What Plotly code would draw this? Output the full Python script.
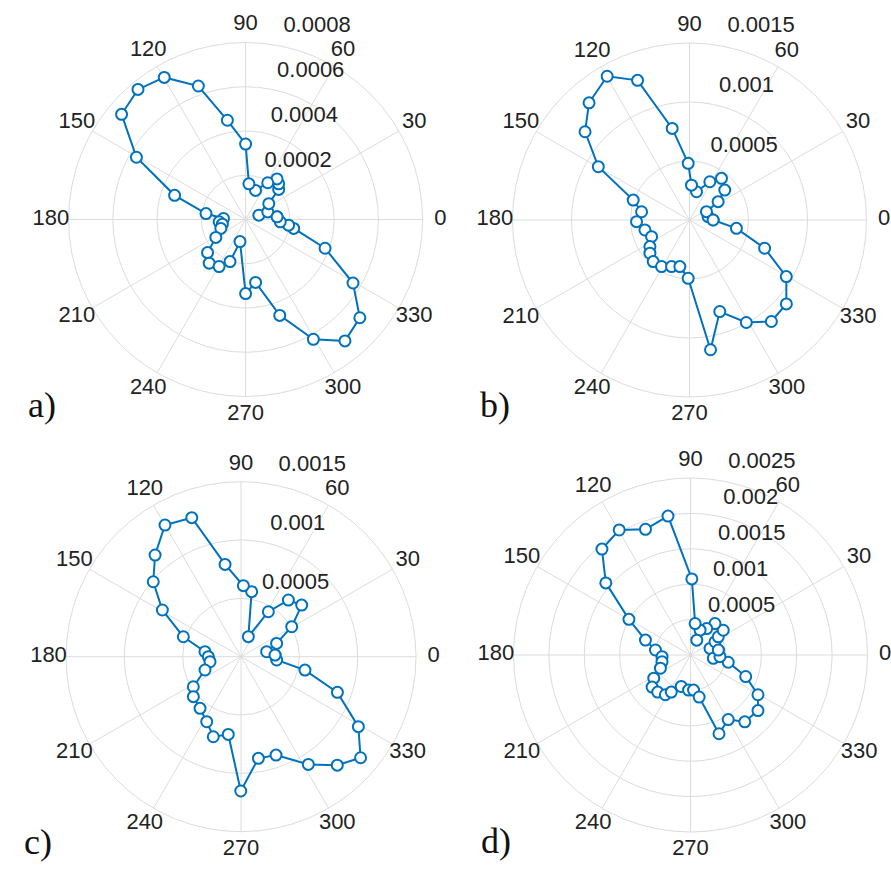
import plotly.graph_objects as go

# ---- measured data (angle in degrees, magnitude) ----
theta_a = [4.8, 18, 18.9, 34.4, 42.3, 47.2, 52.3, 58.9, 71.2, 84.7, 90, 100.4, 109.5, 119.8,
           129.6, 139.7, 150.3, 161.2, 171.5, 177.4, 185, 191.3, 199.8, 211, 221, 230.2, 240.6,
           249.7, 255.8, 270, 279, 289.6, 299.5, 309.3, 319.3, 329.4, 340.1, 349.5, 352.5, 356.2]
r_a = [1.43e-4, 0.63e-4, 1.06e-4, 1.27e-4, 2.02e-4, 2.2e-4, 2.32e-4, 1.94e-4, 1.39e-4, 1.62e-4,
       3.41e-4, 4.56e-4, 6.4e-4, 7.4e-4, 7.63e-4, 7.35e-4, 5.68e-4, 3.39e-4, 1.81e-4, 1.0e-4,
       1.2e-4, 1.07e-4, 1.19e-4, 1.57e-4, 2.28e-4, 2.57e-4, 2.44e-4, 2.03e-4, 1.03e-4, 3.35e-4,
       2.88e-4, 4.6e-4, 6.22e-4, 7.09e-4, 6.81e-4, 5.64e-4, 3.82e-4, 2.21e-4, 1.96e-4, 1.57e-4]

theta_b = [0, 10.1, 26.1, 32.6, 40.3, 52.5, 62, 76.1, 86.7, 91.3, 100.7, 110.4, 119.8, 130.6,
           139.8, 149.7, 160.5, 170.2, 181.8, 192.6, 203.7, 213.9, 220, 228.9, 239, 248.9, 258.3,
           268.7, 279.2, 288.3, 299, 308.9, 319.1, 329.7, 339.4, 349.9]
r_b = [2.0e-4, 1.6e-4, 1.6e-4, 2.88e-4, 3.92e-4, 4.45e-4, 3.67e-4, 2.47e-4, 2.96e-4, 4.8e-4,
       7.9e-4, 12.63e-4, 14.04e-4, 13.08e-4, 11.59e-4, 8.95e-4, 5.06e-4, 4.12e-4, 4.49e-4,
       3.87e-4, 3.51e-4, 4.04e-4, 4.38e-4, 4.68e-4, 4.6e-4, 4.23e-4, 4.03e-4, 4.94e-4,
       11.14e-4, 8.17e-4, 9.93e-4, 11.05e-4, 10.86e-4, 9.5e-4, 6.8e-4, 4.04e-4]

theta_c = [2.8, 11, 20.5, 30.6, 40.4, 50.1, 58.7, 69.9, 80.7, 88.1, 99.8, 109.5, 120, 130.2,
           139.5, 149.3, 160.9, 172.1, 180, 189.2, 200.3, 212.2, 220, 231.6, 242.2, 250.9, 260.7,
           269.9, 279.7, 289.6, 302, 311.6, 319.8, 329.2, 339.7, 348.2, 354.7]
r_c = [2.92e-4, 2.24e-4, 3.26e-4, 5.05e-4, 6.83e-4, 6.33e-4, 4.51e-4, 1.83e-4, 5.65e-4, 6.09e-4,
       8.03e-4, 12.64e-4, 13.03e-4, 11.41e-4, 9.89e-4, 7.84e-4, 5.23e-4, 3.12e-4, 2.8e-4,
       2.69e-4, 3.29e-4, 4.83e-4, 5.33e-4, 5.65e-4, 6.3e-4, 7.26e-4, 6.75e-4, 11.51e-4,
       8.84e-4, 8.95e-4, 10.89e-4, 12.43e-4, 13.42e-4, 11.71e-4, 8.81e-4, 5.6e-4, 3.07e-4]

theta_d = [10.1, 18.7, 28.4, 33.2, 37.1, 52.1, 58.5, 68.9, 67.1, 81.6, 89, 99.2, 109.7, 119.7,
           129.9, 139.6, 149.9, 161.7, 171.9, 183.3, 193.1, 203.7, 212.2, 219.9, 228.5, 237.7,
           242.6, 253.6, 266.8, 274.9, 281.6, 289.9, 300.3, 309.1, 320.5, 329.5, 338.7, 349.1,
           351.8, 356.8]
r_d = [3.99e-4, 2.91e-4, 3.93e-4, 4.69e-4, 5.8e-4, 5.63e-4, 4.38e-4, 3.76e-4, 2.28e-4, 4.49e-4,
       10.75e-4, 19.88e-4, 18.86e-4, 20.33e-4, 19.5e-4, 15.71e-4, 10.05e-4, 6.7e-4, 5.0e-4,
       4.02e-4, 4.13e-4, 4.64e-4, 6.13e-4, 7.07e-4, 6.99e-4, 6.64e-4, 5.9e-4, 4.63e-4, 4.96e-4,
       4.97e-4, 6.06e-4, 11.83e-4, 10.56e-4, 12.16e-4, 12.35e-4, 11.06e-4, 8.37e-4, 5.43e-4,
       3.26e-4, 4.17e-4]

# radial ring values for each panel
rticks_a = [0.0002, 0.0004, 0.0006, 0.0008]
rticks_b = [0.0005, 0.001, 0.0015]
rticks_c = [0.0005, 0.001, 0.0015]
rticks_d = [0.0005, 0.001, 0.0015, 0.002, 0.0025]

angle_ticks = list(range(0, 360, 30))
panel_labels = ["a)", "b)", "c)", "d)"]

W, H = 891, 871
BLUE = "#0072BD"
GRID = "#dcdcdc"
TXT = "#222222"
FONT = "Liberation Sans, Arial, sans-serif"
NBSP = "\u00a0"
LABEL_R = 1.1    # angle labels sit at 1.1 x outer ring
EXTENT = 1.12    # radial range reaches a little past the labels
RING_LABEL_ANGLE = 82


def domain(cx, cy, ring_px):
    """Square paper-domain whose outer ring (rmax) has radius ring_px at pixel (cx, cy)."""
    rad = ring_px * EXTENT
    return dict(x=[(cx - rad) / W, (cx + rad) / W],
                y=[1 - (cy + rad) / H, 1 - (cy - rad) / H])


panels = [
    ("polar", theta_a, r_a, rticks_a, domain(245.6, 219.5, 177)),
    ("polar2", theta_b, r_b, rticks_b, domain(689.5, 220, 177)),
    ("polar3", theta_c, r_c, rticks_c, domain(241, 656.7, 175)),
    ("polar4", theta_d, r_d, rticks_d, domain(690.5, 655, 177)),
]

fig = go.Figure()
layout = {}
for name, th, rr, rt, dom in panels:
    rmax = rt[-1]
    rinc = rt[0]
    # spokes every 30 degrees, from the centre out to the outer ring
    sp_t, sp_r = [], []
    for a in angle_ticks:
        sp_t += [a, a, None]
        sp_r += [0, rmax, None]
    fig.add_trace(go.Scatterpolar(
        theta=sp_t, r=sp_r, subplot=name, mode="lines",
        line=dict(color=GRID, width=1), showlegend=False, hoverinfo="skip"))
    fig.add_trace(go.Scatterpolar(
        theta=th + th[:1], r=rr + rr[:1], subplot=name, mode="lines+markers",
        line=dict(color=BLUE, width=2),
        marker=dict(symbol="circle", size=11, color="white", line=dict(color=BLUE, width=2)),
        showlegend=False, hoverinfo="skip"))
    # ring labels sit just above each ring, along the 82-degree direction
    fig.add_trace(go.Scatterpolar(
        theta=[RING_LABEL_ANGLE] * len(rt), r=[v * 1.025 + rinc / 20 for v in rt],
        subplot=name, mode="text", text=[NBSP * 2 + "%g" % v for v in rt],
        textposition="top right",
        textfont=dict(size=22, family=FONT, color=TXT), cliponaxis=False,
        showlegend=False, hoverinfo="skip"))
    # angle labels centred on a circle just outside the outer ring
    fig.add_trace(go.Scatterpolar(
        theta=angle_ticks, r=[LABEL_R * rmax] * len(angle_ticks), subplot=name, mode="text",
        text=[str(a) for a in angle_ticks], textposition="middle center",
        textfont=dict(size=22, family=FONT, color=TXT), cliponaxis=False,
        showlegend=False, hoverinfo="skip"))
    layout[name] = dict(
        domain=dom, bgcolor="rgba(0,0,0,0)",
        radialaxis=dict(range=[0, EXTENT * rmax], tickvals=rt, showticklabels=False, ticks="",
                        showline=False, gridcolor=GRID, gridwidth=1),
        angularaxis=dict(showticklabels=False, showgrid=False, showline=False, ticks="",
                         direction="counterclockwise", rotation=0),
    )

label_pos = [(42, 405), (495, 405), (38, 842), (496, 841)]
annotations = [
    dict(text=t, x=px / W, y=1 - py / H, xref="paper", yref="paper", showarrow=False,
         xanchor="center", yanchor="middle",
         font=dict(size=36, family="Liberation Serif, Times New Roman, serif", color="#111111"))
    for t, (px, py) in zip(panel_labels, label_pos)
]

fig.update_layout(width=W, height=H, margin=dict(l=0, r=0, t=0, b=0),
                  paper_bgcolor="white", plot_bgcolor="white",
                  annotations=annotations, **layout)

fig.write_html("out.html")
